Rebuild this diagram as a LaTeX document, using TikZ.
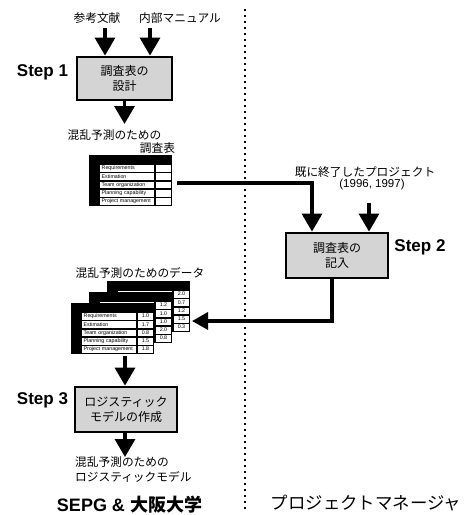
\documentclass[tikz,border=0pt]{standalone}
\usepackage{fontspec}
\setmainfont{Liberation Sans}
\newfontfamily\jp{Noto Sans CJK JP}
\usetikzlibrary{arrows.meta}
\definecolor{boxgray}{gray}{0.83}
\tikzset{
  flow/.style={line width=3.3pt, -{Triangle[width=20pt,length=18pt]}},
  stepbox/.style={draw, line width=2.8pt, fill=boxgray, inner sep=0, align=center,
    font=\jp\fontsize{12}{15}\selectfont},
  steplab/.style={inner sep=0, font=\bfseries\fontsize{17}{20}\selectfont},
  jptext/.style={inner sep=0, font=\jp\fontsize{11.7}{15}\selectfont},
  tbl/.style={fill=black, draw=none, minimum width=83pt, minimum height=51pt, inner sep=0, anchor=north west},
  lcell/.style={fill=white, draw=none, minimum width=54pt, minimum height=6.8pt, inner ysep=0, inner xsep=1.5pt,
    text width=51pt, align=left, anchor=north west, text height=3.7pt, text depth=1pt,
    font=\fontsize{5.3}{6}\selectfont},
  vcell/.style={fill=white, draw=none, minimum width=14.5pt, minimum height=6.8pt, inner sep=0,
    anchor=north west, text height=3.7pt, text depth=1pt, font=\fontsize{5.3}{6}\selectfont},
  dotline/.style={line width=2.3pt, dash pattern=on 2.2pt off 3.8pt}
}
% name, x, y, values, labels
\newcommand\surveytable[5]{%
  \node[tbl] (#1) at (#2,#3) {};
  \foreach \lab [count=\i from 0] in {#5}
    \node[lcell] (#1-l\i) at ({#2+11},{#3+10+8.2*\i}) {\lab};
  \foreach \val [count=\i from 0] in {#4}
    \node[vcell] (#1-v\i) at ({#2+67},{#3+10+8.2*\i}) {\val};
}
\newcommand\rowlabels{Requirements,Estimation,Team organization,Planning capability,Project management}
\begin{document}
\begin{tikzpicture}[x=1pt,y=-1pt]
\useasboundingbox[fill=white] (0,0) rectangle (470,515);

% divider
\draw[dotline] (245,9) -- (245,512);

% inputs of step 1
\node[jptext] (ref1) at (97,18) {参考文献};
\node[jptext] (ref2) at (180,18) {内部マニュアル};
\coordinate (in1) at (105,28);
\coordinate (in2) at (150,28);

% step 1
\node[stepbox, minimum width=95pt, minimum height=43pt] (s1) at (124.5,78.5) {調査表の\\設計};
\node[steplab] (l1) at (42.5,72) {Step 1};
\draw[flow] (in1) -- (s1.north -| in1);
\draw[flow] (in2) -- (s1.north -| in2);
\coordinate (o1) at (124.5,124);
\draw[flow] (s1.south) -- (o1);

\node[jptext] (t1a) at (114.5,135) {混乱予測のための};
\node[jptext] (t1b) at (157.5,148) {調査表};

% blank survey table
\surveytable{t1}{89}{155}{{},{},{},{},{}}{Requirements,Estimation,Team organization,Planning capability,Project management}

% to step 2
\node[jptext] (p1) at (365,172) {既に終了したプロジェクト};
\node[inner sep=0, font=\fontsize{11.5}{14}\selectfont] (p2) at (372,185) {(1996, 1997)};
\node[stepbox, minimum width=102pt, minimum height=45pt] (s2) at (337,255.5) {調査表の\\記入};
\node[steplab] (l2) at (420,247) {Step 2};
\coordinate (a1) at (177,183);
\coordinate (a2) at (312,0);
\coordinate (in3) at (369,203);
\draw[flow] (a1) -| (s2.north -| a2);
\draw[flow] (in3) -- (s2.north -| in3);

% data tables
\node[jptext] (d1) at (140,273) {混乱予測のためのデータ};
\surveytable{t3}{107}{281}{2.0,0.7,1.2,1.5,0.3}{{},{},{},{},{}}
\surveytable{t2}{89}{292}{1.2,1.0,1.0,2.0,0.8}{{},{},{},{},{}}
\surveytable{t4}{71}{303}{1.0,1.7,0.8,1.5,1.8}{Requirements,Estimation,Team organization,Planning capability,Project management}

\coordinate (c2) at (332,0);
\coordinate (tipB) at (192,321);
\draw[flow, -{Triangle[width=17pt,length=16pt]}] (s2.south -| c2) |- (tipB);

% step 3
\node[stepbox, minimum width=102pt, minimum height=45pt] (s3) at (126,409.5) {ロジスティック\\モデルの作成};
\node[steplab] (l3) at (42.5,400) {Step 3};
\coordinate (b1) at (125,356);
\draw[flow] (b1) -- (s3.north -| b1);
\coordinate (o3) at (125,457);
\draw[flow] (s3.south -| o3) -- (o3);
\node[jptext, align=left, anchor=north west] (r1) at (75,456) {混乱予測のための\\ロジスティックモデル};

% footers
\node[inner sep=0, font=\bfseries\fontsize{18}{20}\selectfont] (f1) at (129.5,505) {SEPG \& {\jp 大阪大学}};
\node[inner sep=0, font=\jp\fontsize{17.4}{20}\selectfont] (f2) at (366,503) {プロジェクトマネージャ};
\end{tikzpicture}
\end{document}
